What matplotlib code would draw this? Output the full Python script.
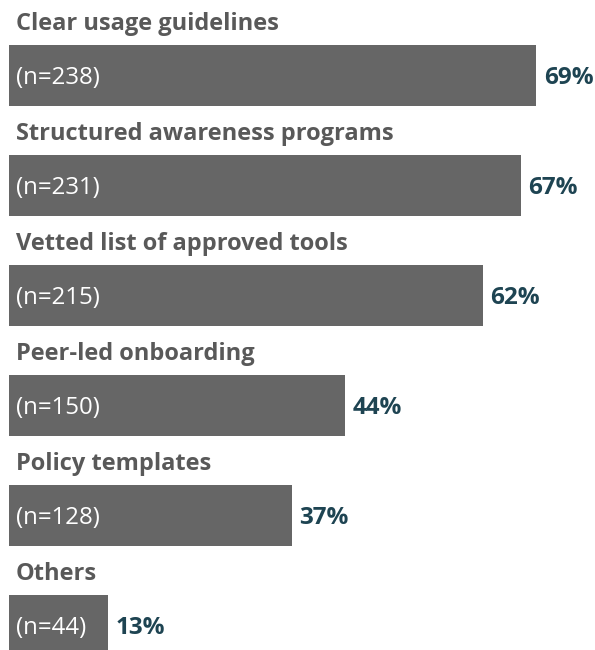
import matplotlib.pyplot as plt

categories = [
    "Clear usage guidelines",
    "Structured awareness programs",
    "Vetted list of approved tools",
    "Peer-led onboarding",
    "Policy templates",
    "Others",
]
percents = [69, 67, 62, 44, 37, 13]
counts = [238, 231, 215, 150, 128, 44]

bar_color = "#666666"
label_color = "#595959"
pct_color = "#1e4452"

plt.rcParams["font.family"] = ["Open Sans", "DejaVu Sans"]

fig = plt.figure(figsize=(5.95, 6.5), dpi=100)
ax = fig.add_axes([0, 0, 1, 1])

pos = list(range(len(categories)))
ax.barh(pos, percents, height=0.555, color=bar_color, left=0)

for i, (cat, p, n) in enumerate(zip(categories, percents, counts)):
    ax.text(0.85, i - 0.41, cat, fontsize=17, fontweight="bold",
            color=label_color, va="baseline", ha="left")
    ax.text(0.85, i + 0.02, f"(n={n})", fontsize=17.3, color="white",
            va="center", ha="left")
    ax.text(p + 1.0, i + 0.02, f"{p}%", fontsize=17.5, fontweight="bold",
            color=pct_color, va="center", ha="left")

ax.set_xlim(-1.18, 76.7)
ax.set_ylim(5.223, -0.686)
ax.axis("off")

fig.savefig("out.png", dpi=100)
plt.close(fig)
